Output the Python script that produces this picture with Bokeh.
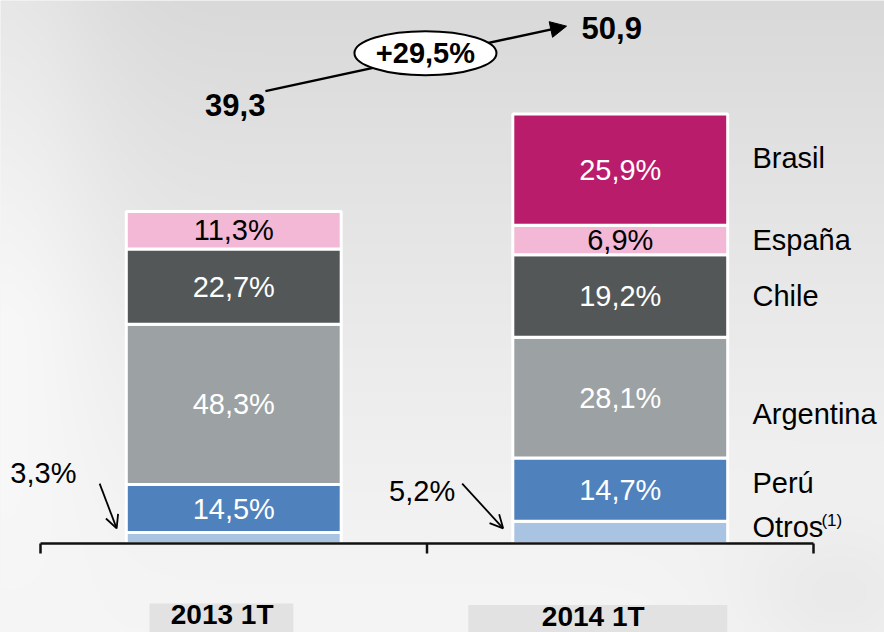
import numpy as np
from bokeh.plotting import figure
from bokeh.models import Range1d, Arrow, NormalHead, OpenHead
from bokeh.core.properties import value
from bokeh.embed import file_html
from bokeh.resources import INLINE

# ---------------- data ----------------
periods = ["2013 1T", "2014 1T"]
totals = [39.3, 50.9]
countries = ["Otros", "Perú", "Argentina", "Chile", "España", "Brasil"]
share_2013 = [3.3, 14.5, 48.3, 22.7, 11.3, 0.0]
share_2014 = [5.2, 14.7, 28.1, 19.2, 6.9, 25.9]

# ---------------- style ----------------
colors = ["#a9c4e3", "#4f81bd", "#9ca1a4", "#535758", "#f2b8d6", "#b91c6b"]
text_colors = ["white", "white", "white", "white", "black", "white"]
legend_nudge = [-5, -7, 16, 0, 0, -12]   # screen px, legend text only
FONT = value("Liberation Sans")

W, H = 884, 632
px_per_x = 386.5
px_per_y = 8.44
x0 = -40 / px_per_x
x1 = x0 + W / px_per_x
y0 = -89 / px_per_y
y1 = y0 + H / px_per_y

p = figure(width=W, height=H, output_backend="svg", toolbar_location=None,
           x_range=Range1d(x0, x1), y_range=Range1d(y0, y1),
           min_border=0, outline_line_color=None)
p.axis.visible = False
p.grid.visible = False
p.background_fill_color = "#ececec"
p.border_fill_color = "#ececec"

# soft sky-like background
gh, gw = 316, 442
yy, xx = np.mgrid[0:gh, 0:gw]
yn = yy / (gh - 1)
xn = xx / (gw - 1)
L = 245 - 28 * yn ** 1.3 + 14 * np.exp(-(xn / 0.12) ** 2) * np.clip(yn * 2, 0, 1) \
    - 10 * np.exp(-(((xn - 0.95) / 0.12) ** 2 + ((yn - 0.05) / 0.12) ** 2))
L = np.clip(L, 0, 255).astype(np.uint32)
img = (255 << 24) | (L << 16) | (L << 8) | L
p.image_rgba(image=[img.astype(np.uint32)], x=x0, y=y0, dw=x1 - x0, dh=y1 - y0, level="image")

centers = [0.5, 1.5]
bar_w = 0.556
shares = [share_2013, share_2014]


def fmt(v):
    return f"{v:.1f}".replace(".", ",")


# stacked bars
for i, (c, tot, sh) in enumerate(zip(centers, totals, shares)):
    bottom = 0.0
    xs, bots, tops, cols, lab_x, lab_y, lab_t, lab_c = [], [], [], [], [], [], [], []
    for j, s in enumerate(sh):
        h = tot * s / 100.0
        if s > 0:
            xs.append(c); bots.append(bottom); tops.append(bottom + h); cols.append(colors[j])
            if j > 0:
                lab_x.append(c); lab_y.append(bottom + h / 2)
                lab_t.append(fmt(s) + "%"); lab_c.append(text_colors[j])
        bottom += h
    p.vbar(x=xs, bottom=bots, top=tops, width=bar_w, fill_color=cols,
           line_color="white", line_width=3)
    p.text(x=lab_x, y=lab_y, text=lab_t, text_color=lab_c, text_font=FONT,
           text_font_size="29px", text_align="center", text_baseline="middle")

# legend labels beside the second bar
bottom = 0.0
leg_y = []
for s in share_2014:
    h = totals[1] * s / 100.0
    leg_y.append(bottom + h / 2)
    bottom += h
leg_x = centers[1] + bar_w / 2 + 0.064
p.text(x=[leg_x] * len(countries), y=leg_y, text=countries, y_offset=legend_nudge,
       text_font=FONT, text_font_size="29px", text_color="black",
       text_align="left", text_baseline="middle")
p.text(x=[leg_x], y=[leg_y[0]], text=["(1)"], x_offset=[69], y_offset=[-12],
       text_font=FONT, text_font_size="17px", text_color="black",
       text_align="left", text_baseline="middle")

# small-share callouts for "Otros"
call_dx = [0.044, 0.106]
call_txt_dx = [0.06, 0.018]
call_txt_dy = [1.3, -0.9]
for c, s, dx, tdx, tdy in zip(centers, [share_2013[0], share_2014[0]], call_dx, call_txt_dx, call_txt_dy):
    tip_x = c - bar_w / 2 - 0.025
    tip_y = 1.8
    st_x, st_y = tip_x - dx, 7.1
    p.add_layout(Arrow(x_start=st_x, y_start=st_y, x_end=tip_x, y_end=tip_y,
                       line_width=1.8, line_color="black",
                       end=OpenHead(size=13, line_width=1.8, line_color="black")))
    p.text(x=[st_x - tdx], y=[st_y + tdy], text=[fmt(s) + "%"], text_font=FONT,
           text_font_size="29px", text_align="right", text_baseline="middle",
           text_color="black")

# x axis bracket
p.segment(x0=[0], y0=[0], x1=[len(periods)], y1=[0], line_color="#111111", line_width=2.5)
p.segment(x0=[0, 1, 2], y0=[0] * 3, x1=[0, 1, 2], y1=[-10 / px_per_y] * 3,
          line_color="#111111", line_width=2.5)

# category labels with light boxes
box_c = [0.468, 1.442]
box_hw = [0.186, 0.335]
p.quad(left=[a - b for a, b in zip(box_c, box_hw)], right=[a + b for a, b in zip(box_c, box_hw)],
       bottom=[y0] * 2, top=[-7.1, -7.3], fill_color="#e2e2e2", line_color=None)
p.text(x=[centers[0] - 0.03, centers[1] - 0.07], y=[-8.4, -8.6], text=periods,
       text_font=FONT, text_font_size="28px", text_font_style="bold",
       text_align="center", text_baseline="middle", text_color="black")

# growth arrow with ellipse
growth = (totals[1] / totals[0] - 1) * 100
arr = Arrow(x_start=0.582, y_start=53.6, x_end=1.361, y_end=61.3, line_width=2.5,
            line_color="black", end=NormalHead(size=16, fill_color="black", line_color="black"),
            level="underlay")
p.add_layout(arr)
p.ellipse(x=[0.996], y=[58.1], width=[142], height=[44], width_units="screen",
          height_units="screen", fill_color="white", line_color="black", line_width=2)
p.text(x=[0.996], y=[58.1], text=["+" + fmt(growth) + "%"], text_font=FONT,
       text_font_size="29px", text_font_style="bold", text_align="center",
       text_baseline="middle", text_color="black")
p.text(x=[0.582], y=[51.9], text=[fmt(totals[0])], text_font=FONT, text_font_size="31px",
       text_font_style="bold", text_align="right", text_baseline="middle", text_color="black")
p.text(x=[1.40], y=[61.1], text=[fmt(totals[1])], text_font=FONT, text_font_size="31px",
       text_font_style="bold", text_align="left", text_baseline="middle", text_color="black")

open("out.html", "w").write(file_html(p, INLINE))
